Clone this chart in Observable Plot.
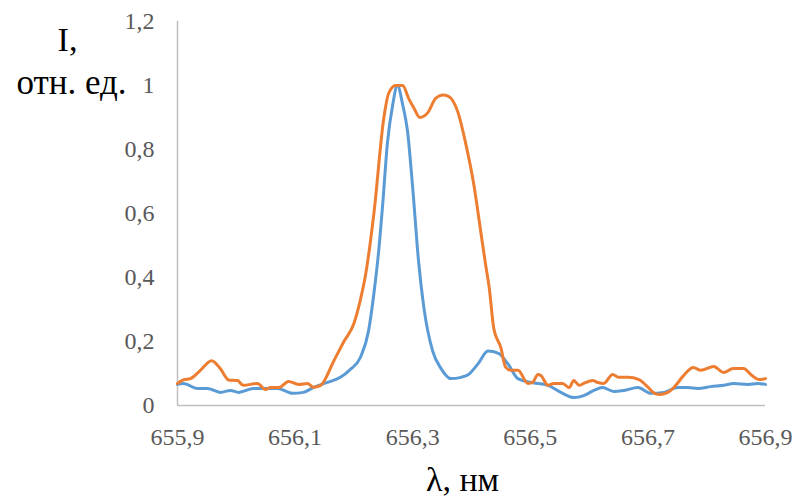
<!DOCTYPE html>
<html>
<head>
<meta charset="utf-8">
<script src="https://cdn.jsdelivr.net/npm/d3@7"></script>
<script src="https://cdn.jsdelivr.net/npm/@observablehq/plot@0.6"></script>
<style>
  html, body { margin: 0; padding: 0; background: #fff; }
  #chart svg { display: block; }
  #chart svg, #chart svg text { font-family: "Liberation Serif", "Times New Roman", serif !important; }
</style>
</head>
<body>
<div id="chart"></div>
<script>
// Wavelength (nm) and relative intensity
const orangeLambda = [655.900,655.910,655.922,655.939,655.958,655.973,655.987,656.002,656.012,656.036,656.050,656.058,656.072,656.089,656.106,656.121,656.131,656.143,656.166,656.183,656.200,656.211,656.220,656.234,656.251,656.259,656.271,656.283,656.293,656.302,656.312,656.326,656.339,656.351,656.361,656.377,656.390,656.404,656.416,656.424,656.430,656.438,656.450,656.458,656.467,656.479,656.496,656.504,656.513,656.518,656.530,656.540,656.555,656.566,656.574,656.583,656.591,656.606,656.615,656.625,656.640,656.651,656.666,656.685,656.697,656.709,656.719,656.734,656.744,656.761,656.777,656.790,656.812,656.829,656.845,656.863,656.875,656.889,656.900];
const orangeI = [0.069,0.080,0.084,0.110,0.140,0.115,0.080,0.078,0.063,0.069,0.050,0.056,0.056,0.075,0.066,0.069,0.057,0.062,0.140,0.200,0.256,0.330,0.410,0.600,0.900,0.975,1.000,1.000,0.960,0.930,0.900,0.916,0.960,0.970,0.966,0.916,0.820,0.690,0.540,0.440,0.370,0.240,0.180,0.120,0.110,0.110,0.069,0.072,0.097,0.094,0.063,0.069,0.069,0.056,0.078,0.063,0.069,0.078,0.072,0.069,0.097,0.088,0.088,0.081,0.063,0.041,0.034,0.041,0.056,0.094,0.119,0.110,0.122,0.103,0.116,0.116,0.097,0.081,0.084];

const blueLambda = [655.900,655.910,655.934,655.951,655.973,655.990,656.004,656.029,656.053,656.070,656.096,656.114,656.131,656.155,656.177,656.194,656.211,656.225,656.234,656.242,656.249,656.257,656.266,656.274,656.283,656.291,656.300,656.310,656.319,656.334,656.348,656.365,656.382,656.395,656.411,656.428,656.446,656.462,656.479,656.501,656.530,656.552,656.574,656.591,656.608,656.623,656.642,656.659,656.683,656.705,656.727,656.751,656.768,656.785,656.807,656.829,656.846,656.870,656.887,656.900];
const blueI = [0.066,0.069,0.053,0.053,0.041,0.047,0.041,0.053,0.053,0.053,0.038,0.041,0.056,0.072,0.088,0.113,0.150,0.234,0.350,0.480,0.630,0.820,0.940,1.000,0.940,0.860,0.680,0.450,0.306,0.170,0.116,0.084,0.088,0.097,0.130,0.170,0.163,0.130,0.084,0.072,0.063,0.041,0.025,0.031,0.047,0.056,0.044,0.047,0.056,0.038,0.041,0.056,0.056,0.053,0.059,0.063,0.069,0.066,0.069,0.066];

const xTicks = [655.9, 656.1, 656.3, 656.5, 656.7, 656.9];
const yTicks = [0, 0.2, 0.4, 0.6, 0.8, 1, 1.2];
const yTitle1 = "I,";
const yTitle2 = "отн. ед.";
const xTitle = "λ, нм";

const blue = blueLambda.map((x, i) => ({x, y: blueI[i]}));
const orange = orangeLambda.map((x, i) => ({x, y: orangeI[i]}));
const fmt = d => String(d).replace(".", ",");
const serif = "Liberation Serif";

const chart = Plot.plot({
  width: 797,
  height: 497,
  marginLeft: 177,
  marginRight: 32,
  marginTop: 21,
  marginBottom: 92,
  style: {background: "#fff"},
  x: {domain: [655.9, 656.9]},
  y: {domain: [0, 1.2]},
  marks: [
    Plot.ruleX([655.9], {stroke: "#bfbfbf", strokeWidth: 1.5}),
    Plot.ruleY([0], {stroke: "#bfbfbf", strokeWidth: 1.5}),
    Plot.axisX({ticks: xTicks, tickFormat: fmt, tickSize: 0, tickPadding: 22, fontSize: 24, fontFamily: serif, fill: "#595959", label: null}),
    Plot.axisY({ticks: yTicks, tickFormat: fmt, tickSize: 0, tickPadding: 23, fontSize: 24, fontFamily: serif, fill: "#595959", label: null}),
    Plot.line(blue, {x: "x", y: "y", stroke: "#5B9BD5", strokeWidth: 3, curve: "monotone-x"}),
    Plot.line(orange, {x: "x", y: "y", stroke: "#ED7D31", strokeWidth: 3, curve: "monotone-x"}),
    Plot.text([yTitle1], {text: d => d, frameAnchor: "top-left", dx: -110, dy: 29, textAnchor: "middle", lineAnchor: "bottom", fontSize: 34, fontFamily: serif, fill: "#000"}),
    Plot.text([yTitle2], {text: d => d, frameAnchor: "top-left", dx: -106, dy: 72, textAnchor: "middle", lineAnchor: "bottom", fontSize: 35, fontFamily: serif, fill: "#000"}),
    Plot.text([xTitle], {text: d => d, frameAnchor: "bottom", dx: -9, dy: 85, textAnchor: "middle", lineAnchor: "bottom", fontSize: 34, fontFamily: serif, fill: "#000"})
  ]
});
document.getElementById("chart").appendChild(chart);
</script>
</body>
</html>
